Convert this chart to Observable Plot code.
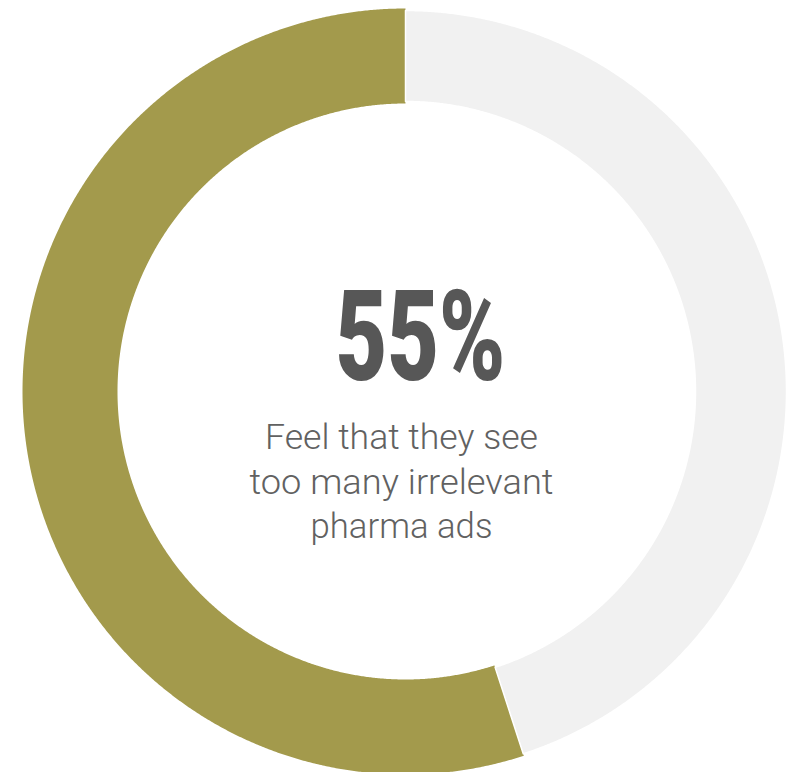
<!DOCTYPE html>
<html>
<head>
<meta charset="utf-8">
<script src="https://cdn.jsdelivr.net/npm/d3@7"></script>
<script src="https://cdn.jsdelivr.net/npm/@observablehq/plot@0.6"></script>
<style>
  html, body { margin: 0; padding: 0; background: #fff; }
  svg { display: block; }
</style>
</head>
<body>
<div id="chart"></div>
<script>
// ---- data ----
const categories = ["Feel that they see too many irrelevant pharma ads", "Other"];
const shares = [55, 45];
const headline = ["55%"];
const captionLines = ["Feel that they see", "too many irrelevant", "pharma ads"];

// ---- style / layout ----
const colors = ["#a39a4c", "#f1f1f1"];
const rings = [{outer: 383, inner: 288}, {outer: 381, inner: 290}];
const W = 787, H = 772;
const captionWidths = [273, 304, 182];
const headlineWidth = 170;

// build ring polygons from pie angles (counter-clockwise from 12 o'clock)
const arcs = d3.pie().sort(null).startAngle(0).endAngle(-2 * Math.PI)(shares);
const ringPts = [];
arcs.forEach((a, i) => {
  const {outer, inner} = rings[i];
  const n = Math.max(2, Math.ceil(Math.abs(a.endAngle - a.startAngle) / (Math.PI / 720)));
  for (let k = 0; k <= n; k++) {
    const t = a.startAngle + (a.endAngle - a.startAngle) * k / n;
    ringPts.push({cat: categories[i], x: outer * Math.sin(t), y: outer * Math.cos(t)});
  }
  for (let k = n; k >= 0; k--) {
    const t = a.startAngle + (a.endAngle - a.startAngle) * k / n;
    ringPts.push({cat: categories[i], x: inner * Math.sin(t), y: inner * Math.cos(t)});
  }
});

const marks = categories.map((c, i) =>
  Plot.line(ringPts.filter(d => d.cat === c), {
    x: "x", y: "y", curve: "linear-closed",
    fill: colors[i],
    stroke: i === 0 ? "none" : "#ffffff",
    strokeWidth: 1.5
  })
);

marks.push(Plot.text(headline, {
  text: d => d, frameAnchor: "middle", dx: 26.5, dy: -47,
  fontSize: 126, fontWeight: 900, fontFamily: "Roboto",
  fill: "#575757", textAnchor: "middle"
}));

captionLines.forEach((t, i) => {
  marks.push(Plot.text([t], {
    text: d => d, frameAnchor: "middle", dx: 7.5, dy: 51.5 + 44.5 * i,
    fontSize: 35.5, fontWeight: 300, fontFamily: "Roboto",
    fill: "#616161", textAnchor: "middle"
  }));
});

const plot = Plot.plot({
  width: W, height: H,
  marginTop: 0, marginRight: 0, marginBottom: 0, marginLeft: 0,
  x: {domain: [-405, 382], axis: null},
  y: {domain: [-381, 391], axis: null},
  style: {background: "#ffffff", overflow: "visible"},
  marks
});

const fits = new Map([[headline[0], headlineWidth], ...captionLines.map((t, i) => [t, captionWidths[i]])]);
d3.select(plot).selectAll("text").each(function () {
  const w = fits.get(this.textContent);
  if (w) {
    this.setAttribute("textLength", w);
    this.setAttribute("lengthAdjust", "spacingAndGlyphs");
  }
});

document.getElementById("chart").appendChild(plot);
</script>
</body>
</html>
